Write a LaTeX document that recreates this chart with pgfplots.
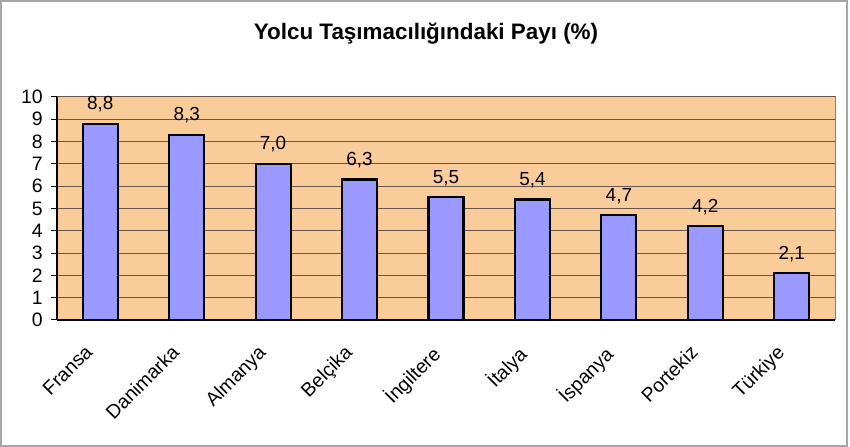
\documentclass[border=0pt]{standalone}
\usepackage{pgfplots}
\pgfplotsset{compat=1.18}
\usepackage{fontspec}
\setmainfont{Liberation Sans}
\definecolor{plotbg}{RGB}{250,204,153}
\definecolor{barfill}{RGB}{153,153,255}
\definecolor{gridc}{RGB}{105,85,75}
\begin{document}
\begin{tikzpicture}[x=1bp,y=1bp]
  \useasboundingbox (0,0) rectangle (850,447);
  \draw[gray!70, line width=1.5bp] (1,1) rectangle (847,446);
  \node[font=\fontsize{22.5}{24}\selectfont\bfseries] at (426,413) {Yolcu Taşımacılığındaki Payı (\%)};
  \begin{axis}[
      at={(57bp,127bp)}, anchor=south west,
      scale only axis,
      width=778bp, height=223bp,
      ybar, bar width=35bp,
      xmin=-0.5, xmax=8.5,
      ymin=0, ymax=10,
      ytick={0,1,...,10},
      xtick={0,1,...,8},
      xticklabels={Fransa,Danimarka,Almanya,Belçika,İngiltere,İtalya,İspanya,Portekiz,Türkiye},
      x tick style={draw=none},
      extra x ticks={-0.5,0.5,...,8.5},
      extra x tick labels={},
      extra x tick style={draw=black, line width=1bp, tick align=outside, major tick length=6bp, grid=none},
      y tick style={black, line width=1bp},
      tick align=outside, major tick length=6bp,
      ymajorgrids,
      grid style={gridc, line width=1bp},
      axis background/.style={fill=plotbg, draw=gray, line width=1bp},
      axis x line*=bottom, axis y line*=left,
      axis line style={black, line width=1.2bp, -},
      /pgf/number format/assume math mode=true,
      ticklabel style={font=\fontsize{19.5}{21}\selectfont},
      yticklabel style={inner sep=0pt, xshift=-8bp},
      xticklabel style={font=\fontsize{19.5}{21}\selectfont, rotate=45, anchor=north east, inner sep=0pt, xshift=-24bp, yshift=-1bp},
      nodes near coords,
      nodes near coords style={font=\fontsize{19}{21}\selectfont, anchor=base, inner sep=0pt, yshift=14bp,
        /pgf/number format/.cd, use comma, fixed, fixed zerofill, precision=1, assume math mode=true},
    ]
    \addplot[fill=barfill, draw=black, line width=2.2bp] coordinates {
      (0,8.8)(1,8.3)(2,7.0)(3,6.3)(4,5.5)(5,5.4)(6,4.7)(7,4.2)(8,2.1)
    };
  \end{axis}
\end{tikzpicture}
\end{document}
